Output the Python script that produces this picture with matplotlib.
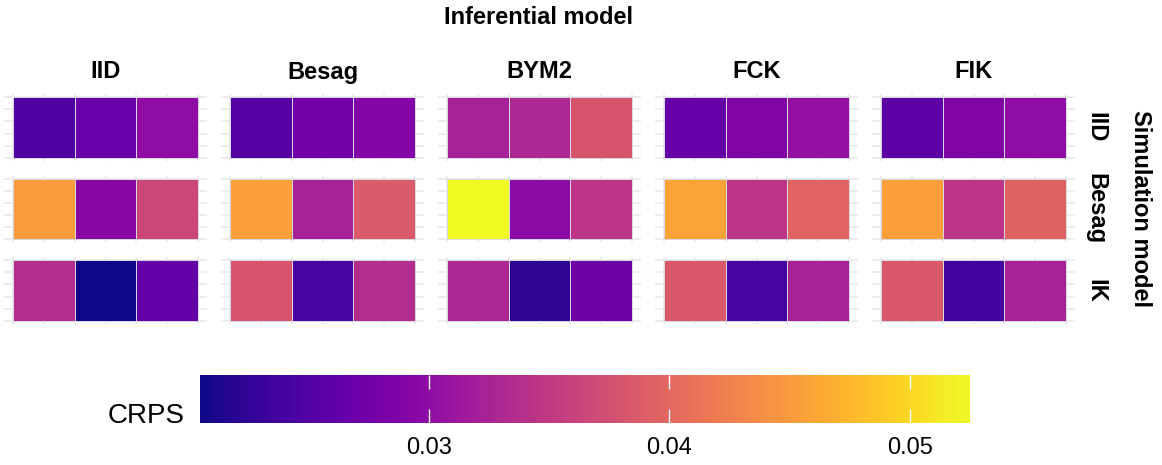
import numpy as np
import matplotlib
matplotlib.use("Agg")
import matplotlib.pyplot as plt
from matplotlib.colors import Normalize
from matplotlib.cm import ScalarMappable

plt.rcParams["font.family"] = ["Liberation Sans", "DejaVu Sans"]

inferential = ["IID", "Besag", "BYM2", "FCK", "FIK"]
simulation = ["IID", "Besag", "IK"]

# CRPS values, one list of 3 tiles per inferential model
crps_iid = [[0.0247, 0.0269, 0.0301], [0.0253, 0.0275, 0.0291],
            [0.0323, 0.0330, 0.0381], [0.0266, 0.0288, 0.0304],
            [0.0259, 0.0288, 0.0301]]
crps_besag = [[0.0451, 0.0295, 0.0365], [0.0455, 0.0323, 0.0387],
              [0.0525, 0.0298, 0.0346], [0.0458, 0.0346, 0.0397],
              [0.0455, 0.0346, 0.0394]]
crps_ik = [[0.0336, 0.0205, 0.0263], [0.0381, 0.0243, 0.0336],
           [0.0330, 0.0224, 0.0272], [0.0384, 0.0243, 0.0323],
           [0.0384, 0.0240, 0.0323]]
crps = [crps_iid, crps_besag, crps_ik]
cbar_ticks = [0.03, 0.04, 0.05]

W, H = 1162, 465
fig = plt.figure(figsize=(W / 100, H / 100), dpi=100)

allv = np.array(crps).ravel()
norm = Normalize(vmin=allv.min(), vmax=allv.max())
cmap = plt.get_cmap("plasma")


def px_axes(x0, y0, w, h):
    return fig.add_axes([x0 / W, 1 - (y0 + h) / H, w / W, h / H])


for r, sim in enumerate(simulation):
    for c, inf in enumerate(inferential):
        ax = px_axes(4 + c * 217, 94 + r * 81.5, 203, 67)
        for gx in np.arange(0.5, 3.6, 0.5):
            ax.axvline(gx, color="#ebebeb", lw=1.3, zorder=0)
        for gy in np.arange(0.5, 1.51, 0.2):
            ax.axhline(gy, color="#ebebeb", lw=1.3, zorder=0)
        ax.pcolormesh([0.5, 1.5, 2.5, 3.5], [0.5, 1.5], [crps[r][c]],
                      cmap=cmap, norm=norm, edgecolors="#d8d8e0",
                      linewidth=0.5, zorder=2)
        ax.set_xlim(0.35, 3.65)
        ax.set_ylim(0.45, 1.55)
        ax.set_xticks([])
        ax.set_yticks([])
        for s in ax.spines.values():
            s.set_visible(False)
        if r == 0:
            fig.text((4 + c * 217 + 101.5) / W, 1 - 72 / H, inf,
                     ha="center", va="center", fontsize=17, fontweight="bold")
        if c == len(inferential) - 1:
            fig.text(1096 / W, 1 - (127.5 + r * 81.5) / H, sim, rotation=-90,
                     ha="center", va="center", fontsize=17, fontweight="bold")

fig.text(539 / W, 1 - 18 / H, "Inferential model", ha="center", va="center",
         fontsize=17, fontweight="bold")
fig.text(1140 / W, 1 - 209 / H, "Simulation model", rotation=-90,
         ha="center", va="center", fontsize=17, fontweight="bold")

# colour bar
cax = px_axes(200, 375, 770, 48)
cb = fig.colorbar(ScalarMappable(norm=norm, cmap=cmap), cax=cax,
                  orientation="horizontal")
cb.outline.set_visible(False)
cb.set_ticks(cbar_ticks)
cb.set_ticklabels(["0.03", "0.04", "0.05"])
cax.tick_params(direction="in", length=10, width=1, color="white",
                top=True, bottom=True, labelsize=17, pad=10)
fig.text(185 / W, 1 - 416 / H, "CRPS", ha="right", va="center", fontsize=20)

fig.savefig("out.png", dpi=100)
